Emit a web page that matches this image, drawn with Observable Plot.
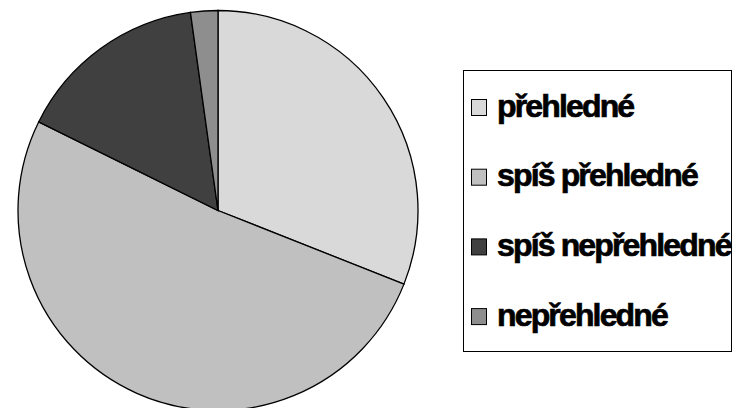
<!DOCTYPE html>
<html><head><meta charset="utf-8">
<script src="https://cdn.jsdelivr.net/npm/d3@7"></script>
<script src="https://cdn.jsdelivr.net/npm/@observablehq/plot@0.6"></script>
<style>body{margin:0;background:#fff}</style>
</head><body><div id="chart"></div>
<script>
const categories = ["přehledné", "spíš přehledné", "spíš nepřehledné", "nepřehledné"];
const values = [31.0, 51.3, 15.5, 2.2];
const colors = ["#d9d9d9", "#c0c0c0", "#404040", "#8e8e8e"];

const data = categories.map((c, i) => ({category: c, value: values[i]}));
const W = 738, H = 408;
const cx = 218, cy = 210.5, R = 200;

function pieMark(index, scales, vals, dims) {
  const g = d3.create("svg:g");
  const arcs = d3.pie().sort(null).value(d => d.value)(data);
  const arc = d3.arc().innerRadius(0).outerRadius(R);
  g.append("g").attr("transform", `translate(${cx},${cy})`)
    .selectAll("path").data(arcs).join("path")
    .attr("d", arc)
    .attr("fill", d => scales.color(d.data.category))
    .attr("stroke", "#000").attr("stroke-width", 1.3);
  // legend
  const lg = g.append("g");
  lg.append("rect").attr("x", 463.5).attr("y", 70.5).attr("width", 268).attr("height", 281)
    .attr("fill", "none").attr("stroke", "#000").attr("stroke-width", 1);
  const step = 69.7;
  data.forEach((d, i) => {
    lg.append("rect").attr("x", 471.5).attr("y", 99.5 + i * step).attr("width", 15).attr("height", 16)
      .attr("fill", scales.color(d.category)).attr("stroke", "#000").attr("stroke-width", 1);
    lg.append("text").attr("x", 497).attr("y", 116.5 + i * step)
      .attr("text-anchor", "start")
      .attr("font-family", "Liberation Sans, Arial, sans-serif").attr("font-weight", "bold")
      .attr("font-size", 32).attr("letter-spacing", -1.85).attr("fill", "#000")
      .attr("stroke", "#000").attr("stroke-width", 0.7)
      .text(d.category);
  });
  return g.node();
}

const chart = Plot.plot({
  width: W, height: H, margin: 0,
  x: {axis: null}, y: {axis: null},
  color: {domain: categories, range: colors},
  marks: [pieMark]
});
document.getElementById("chart").append(chart);
</script>
</body></html>
